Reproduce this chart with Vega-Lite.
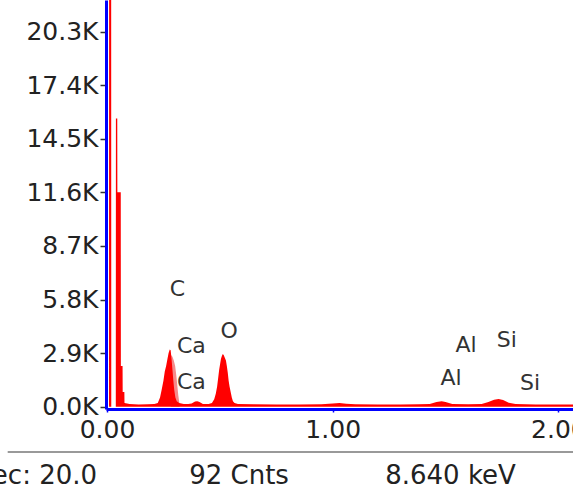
{
  "$schema": "https://vega.github.io/schema/vega-lite/v6.json",
  "width": 467,
  "height": 409,
  "autosize": {"type": "none"},
  "padding": {"left": 106, "top": 0, "right": 0, "bottom": 82},
  "background": "white",
  "config": {"view": {"stroke": null}, "font": "DejaVu Sans"},
  "datasets": {
    "spectrum": [
      {"k": 0.009, "c": 0}, {"k": 0.0095, "c": 24}, {"k": 0.0185, "c": 24}, {"k": 0.019, "c": 0},
      {"k": 0.039, "c": 0}, {"k": 0.0395, "c": 15.6}, {"k": 0.0455, "c": 15.6}, {"k": 0.046, "c": 11.6},
      {"k": 0.061, "c": 11.6}, {"k": 0.0615, "c": 2.2}, {"k": 0.069, "c": 2.2}, {"k": 0.0695, "c": 0.8},
      {"k": 0.077, "c": 0.8}, {"k": 0.0775, "c": 0.2}, {"k": 0.1, "c": 0.15}, {"k": 0.14, "c": 0.12},
      {"k": 0.18, "c": 0.13}, {"k": 0.21, "c": 0.15}, {"k": 0.225, "c": 0.2}, {"k": 0.235, "c": 0.5},
      {"k": 0.242, "c": 0.9}, {"k": 0.25, "c": 1.4}, {"k": 0.256, "c": 1.9}, {"k": 0.262, "c": 2.2},
      {"k": 0.268, "c": 2.6}, {"k": 0.273, "c": 2.9}, {"k": 0.278, "c": 3.1}, {"k": 0.282, "c": 3.05},
      {"k": 0.286, "c": 2.6}, {"k": 0.29, "c": 2.0}, {"k": 0.294, "c": 1.4}, {"k": 0.298, "c": 0.9},
      {"k": 0.303, "c": 0.5}, {"k": 0.309, "c": 0.3}, {"k": 0.32, "c": 0.2}, {"k": 0.34, "c": 0.15},
      {"k": 0.36, "c": 0.14}, {"k": 0.375, "c": 0.18}, {"k": 0.39, "c": 0.28}, {"k": 0.4, "c": 0.3},
      {"k": 0.41, "c": 0.25}, {"k": 0.425, "c": 0.15}, {"k": 0.45, "c": 0.15}, {"k": 0.465, "c": 0.2},
      {"k": 0.475, "c": 0.4}, {"k": 0.482, "c": 0.7}, {"k": 0.488, "c": 1.1}, {"k": 0.493, "c": 1.6},
      {"k": 0.497, "c": 2.0}, {"k": 0.501, "c": 2.3}, {"k": 0.505, "c": 2.6}, {"k": 0.509, "c": 2.75},
      {"k": 0.513, "c": 2.85}, {"k": 0.517, "c": 2.8}, {"k": 0.522, "c": 2.65}, {"k": 0.527, "c": 2.5},
      {"k": 0.531, "c": 2.2}, {"k": 0.535, "c": 1.85}, {"k": 0.539, "c": 1.4}, {"k": 0.543, "c": 1.1},
      {"k": 0.548, "c": 0.8}, {"k": 0.553, "c": 0.5}, {"k": 0.558, "c": 0.3}, {"k": 0.565, "c": 0.2},
      {"k": 0.58, "c": 0.15}, {"k": 0.65, "c": 0.13}, {"k": 0.75, "c": 0.12}, {"k": 0.85, "c": 0.12},
      {"k": 0.95, "c": 0.13}, {"k": 1.0, "c": 0.17}, {"k": 1.03, "c": 0.2}, {"k": 1.06, "c": 0.16},
      {"k": 1.1, "c": 0.13}, {"k": 1.2, "c": 0.12}, {"k": 1.3, "c": 0.12}, {"k": 1.38, "c": 0.13},
      {"k": 1.43, "c": 0.15}, {"k": 1.46, "c": 0.25}, {"k": 1.483, "c": 0.3}, {"k": 1.5, "c": 0.25},
      {"k": 1.53, "c": 0.15}, {"k": 1.6, "c": 0.13}, {"k": 1.66, "c": 0.15}, {"k": 1.69, "c": 0.25},
      {"k": 1.715, "c": 0.38}, {"k": 1.735, "c": 0.42}, {"k": 1.755, "c": 0.36}, {"k": 1.78, "c": 0.22},
      {"k": 1.81, "c": 0.14}, {"k": 1.9, "c": 0.12}, {"k": 2.0, "c": 0.12}, {"k": 2.07, "c": 0.12}
    ],
    "pink": [
      {"k": 0.283, "c": 0}, {"k": 0.284, "c": 2.8}, {"k": 0.29, "c": 2.7}, {"k": 0.296, "c": 2.5},
      {"k": 0.302, "c": 2.2}, {"k": 0.307, "c": 1.7}, {"k": 0.312, "c": 1.1}, {"k": 0.316, "c": 0.6},
      {"k": 0.32, "c": 0.25}, {"k": 0.322, "c": 0}
    ],
    "labels": [
      {"k": 0.312, "c": 6.37, "t": "C"},
      {"k": 0.374, "c": 3.28, "t": "Ca"},
      {"k": 0.374, "c": 1.36, "t": "Ca"},
      {"k": 0.541, "c": 4.1, "t": "O"},
      {"k": 1.591, "c": 3.34, "t": "Al"},
      {"k": 1.771, "c": 3.61, "t": "Si"},
      {"k": 1.524, "c": 1.55, "t": "Al"},
      {"k": 1.874, "c": 1.31, "t": "Si"}
    ],
    "footerLeft": [
      {"k": -0.044, "c": -3.75, "t": "Lsec: 20.0"}
    ],
    "footer": [
      {"k": 0.585, "c": -3.75, "t": "92 Cnts"},
      {"k": 1.522, "c": -3.75, "t": "8.640 keV"}
    ],
    "sep": [
      {"k": -0.44, "k2": 2.07, "c": -2.45}
    ]
  },
  "layer": [
    {
      "data": {"name": "pink"},
      "mark": {"type": "area", "color": "#f58a8a", "clip": true, "interpolate": "linear"},
      "encoding": {
        "x": {"field": "k", "type": "quantitative", "scale": {"domain": [-0.0044, 2.0647], "nice": false, "zero": false},
          "axis": {"values": [0, 1, 2], "format": ".2f", "grid": false, "domainColor": "#0000ff", "domainWidth": 3,
            "tickColor": "#0000ff", "tickSize": 3, "tickWidth": 1.5, "labelFontSize": 25, "labelColor": "#222",
            "labelPadding": 5, "labelFont": "DejaVu Sans", "title": null, "labelOverlap": false, "labelBound": false, "labelFlush": false}},
        "y": {"field": "c", "type": "quantitative", "scale": {"domain": [-0.124, 22.01], "nice": false, "zero": false},
          "axis": {"values": [0, 2.9, 5.8, 8.7, 11.6, 14.5, 17.4, 20.3], "labelExpr": "format(datum.value, '.1f') + 'K'",
            "grid": false, "domainColor": "#0000ff", "domainWidth": 3, "tickColor": "#333", "tickSize": 6, "tickWidth": 1.5,
            "labelFontSize": 25, "labelColor": "#222", "labelPadding": 2, "labelFont": "DejaVu Sans", "title": null, "labelOverlap": false}}
      }
    },
    {
      "data": {"name": "spectrum"},
      "mark": {"type": "area", "color": "#ff0000", "clip": true, "interpolate": "linear"},
      "encoding": {
        "x": {"field": "k", "type": "quantitative"},
        "y": {"field": "c", "type": "quantitative"}
      }
    },
    {
      "data": {"name": "labels"},
      "mark": {"type": "text", "fontSize": 22, "font": "DejaVu Sans", "color": "#333", "align": "center", "baseline": "middle"},
      "encoding": {
        "x": {"field": "k", "type": "quantitative"},
        "y": {"field": "c", "type": "quantitative"},
        "text": {"field": "t"}
      }
    },
    {
      "data": {"name": "sep"},
      "mark": {"type": "rule", "color": "#999999", "strokeWidth": 2, "clip": false},
      "encoding": {
        "x": {"field": "k", "type": "quantitative"},
        "x2": {"field": "k2"},
        "y": {"field": "c", "type": "quantitative"}
      }
    },
    {
      "data": {"name": "footerLeft"},
      "mark": {"type": "text", "fontSize": 26, "font": "DejaVu Sans", "color": "#222", "baseline": "middle", "align": "right", "clip": false},
      "encoding": {
        "x": {"field": "k", "type": "quantitative"},
        "y": {"field": "c", "type": "quantitative"},
        "text": {"field": "t"}
      }
    },
    {
      "data": {"name": "footer"},
      "mark": {"type": "text", "fontSize": 26, "font": "DejaVu Sans", "color": "#222", "baseline": "middle", "align": "center", "clip": false},
      "encoding": {
        "x": {"field": "k", "type": "quantitative"},
        "y": {"field": "c", "type": "quantitative"},
        "text": {"field": "t"}
      }
    }
  ]
}
